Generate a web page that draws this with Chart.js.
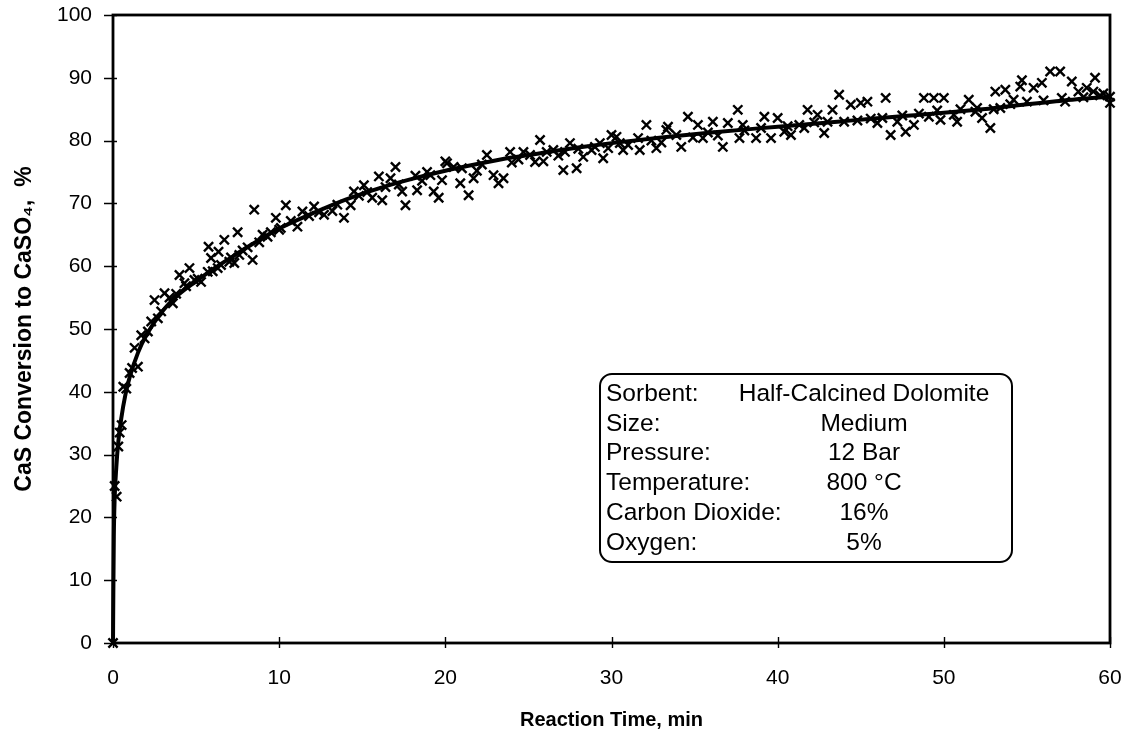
<!DOCTYPE html>
<html><head><meta charset="utf-8">
<script src="https://cdn.jsdelivr.net/npm/chart.js@4.4.0/dist/chart.umd.min.js"></script>
<style>html,body{margin:0;padding:0;background:#fff;}#wrap{width:1127px;height:736px;position:relative;}</style>
</head><body><div id="wrap"><canvas id="c" width="1127" height="736"></canvas></div>
<script>
// ---- data ----
const timeMin = [0,0.1,0.22,0.32,0.4,0.52,0.62,0.8,1.0,1.15,1.3,1.5,1.7,1.9,2.1,2.3,2.5,2.7,2.9,3.1,3.4,3.6,3.8,4.0,4.3,4.4,4.6,4.9,5.1,5.3,5.7,5.75,5.9,6.0,6.3,6.35,6.5,6.7,7.0,7.1,7.3,7.5,7.6,7.8,8.1,8.4,8.5,8.8,9.0,9.3,9.5,9.8,
10.0,10.1,10.4,10.7,11.1,11.4,11.8,12.1,12.4,12.7,13.2,13.5,13.9,14.3,14.5,14.8,15.1,15.3,15.6,16.0,16.2,16.4,16.7,17.0,17.2,17.4,17.6,18.2,18.3,18.6,18.9,19.1,19.3,19.6,19.8,
20.0,20.1,20.5,20.9,21.0,21.4,21.7,21.9,22.2,22.5,22.9,23.2,23.5,23.9,24.0,24.4,24.7,25.1,25.4,25.7,25.9,26.1,26.5,26.8,27.1,27.2,27.5,27.9,28.0,28.3,28.8,29.0,29.3,29.5,29.8,
30.0,30.3,30.5,30.7,31.0,31.6,31.7,32.1,32.4,32.7,33.0,33.3,33.4,33.9,34.2,34.6,34.9,35.2,35.5,35.8,36.1,36.4,36.7,37.0,37.6,37.7,37.9,38.0,38.7,39.0,39.2,39.6,
40.0,40.4,40.6,40.8,41.3,41.6,41.8,42.2,42.4,42.8,43.0,43.3,43.7,44.0,44.4,44.8,45.0,45.4,45.6,46.0,46.3,46.5,46.8,47.2,47.5,47.7,48.2,48.5,48.8,49.1,49.4,49.6,49.8,
50.0,50.6,50.8,51.0,51.5,51.9,52.0,52.3,52.8,53.0,53.1,53.4,53.7,54.0,54.2,54.6,54.7,55.0,55.4,55.9,56.0,56.4,57.0,57.1,57.3,57.7,58.1,58.4,58.6,59.0,59.1,59.4,59.6,60.0,60.0];
const conversionPct = [0,25,23.3,31.3,33.5,34.7,40.8,40.5,43,43.8,47,44,49,48.5,49.6,51.2,54.6,51.7,52.8,55.7,55,54.1,55.6,58.6,57.3,56.8,59.7,57.8,58,57.5,59.1,63.1,61.3,59.2,59.7,62.3,60.2,64.2,60.7,61.4,60.5,65.4,61.8,62.5,63,61,69,63.8,65,64.7,65.4,67.7,
65.8,66.1,69.7,67.2,66.3,68.7,68.0,69.5,68.6,68.2,68.8,69.8,67.7,69.7,71.9,71.2,72.9,71.8,70.9,74.3,70.5,72.6,74,75.8,73.0,71.9,69.7,74.4,72.1,73.6,75,74.5,71.9,70.9,73.7,
76.7,76.4,75.8,73.2,75.6,71.3,74,75.2,76.2,77.7,74.5,73.2,74,78.2,76.5,77.0,78.2,77.7,76.6,80.1,76.7,78.2,78.5,77.6,75.3,78.2,79.6,75.6,78.7,77.4,78.5,79.0,79.6,77.2,78.8,
80.9,80.6,79.6,78.5,79.3,80.4,78.5,82.5,80.0,78.8,79.7,81.7,82.2,80.9,79,83.8,80.5,82.5,80.4,81.3,83,80.8,79,82.8,84.9,80.4,82.5,81.6,80.4,82.0,83.8,80.4,
83.6,81.4,82.3,80.9,82.5,82.0,84.9,82.9,84.1,81.2,83.0,84.9,87.3,83,85.7,83.2,86,86.2,83.5,82.8,83.6,86.8,80.9,83,84.0,81.4,82.5,84.3,86.8,83.8,86.8,84.8,83.3,
86.8,84.1,83,85.0,86.5,84.6,85.2,83.6,82,85.0,87.8,85.2,88.1,85.8,86.5,88.6,89.6,86.2,88.4,89.2,86.4,91,91,86.8,86.2,89.4,87.8,86.9,88.4,87.8,90,87.2,87.5,87,86];
const fitTime = [0,0.02,0.05,0.1,0.2,0.3,0.5,0.75,1,1.5,2,3,4,5,6,7,8,9,10,12,14,16,18,20,22,24,26,28,30,33,36,40,44,48,52,55,58,60];
const fitConversion = [0,8,17,23,28,31.5,35.8,39.6,42.3,46.2,49,52.9,55.6,57.6,59.5,61.2,62.9,64.5,66,68.4,70.6,72.4,73.9,75.2,76.3,77.3,78.1,78.9,79.6,80.5,81.3,82.2,83.1,84,84.9,85.8,86.6,87];
const xTickValues = [0,10,20,30,40,50,60];
const yTickValues = [0,10,20,30,40,50,60,70,80,90,100];
const xTitle = 'Reaction Time, min';
const yTitle = 'CaS Conversion to CaSO\u2084,  %';
const infoLabels = ['Sorbent:','Size:','Pressure:','Temperature:','Carbon Dioxide:','Oxygen:'];
const infoValues = ['Half-Calcined Dolomite','Medium','12 Bar','800 \u00B0C','16%','5%'];

// ---- chart ----
const FONT = "'Liberation Sans', Arial, sans-serif";
const scatterPts = timeMin.map((t, i) => ({x: t, y: conversionPct[i]}));
const fitPts = fitTime.map((t, i) => ({x: t, y: fitConversion[i]}));

const framePlugin = {
  id: 'frame',
  afterDatasetsDraw(chart) {
    const {ctx, chartArea: a, scales: {x, y}} = chart;
    ctx.save();
    ctx.strokeStyle = '#000';
    ctx.lineWidth = 1.4;
    ctx.beginPath();
    y.ticks.forEach(t => { const py = Math.round(y.getPixelForValue(t.value)) + 0.5; ctx.moveTo(a.left - 9, py); ctx.lineTo(a.left + 4, py); });
    x.ticks.forEach(t => { const px = Math.round(x.getPixelForValue(t.value)) + 0.5; ctx.moveTo(px, a.bottom - 6); ctx.lineTo(px, a.bottom + 5); });
    ctx.stroke();
    ctx.lineWidth = 2.8;
    ctx.strokeRect(a.left, a.top, a.right - a.left, a.bottom - a.top);

    // info box
    const bx = 600, by = 374, bw = 412, bh = 188, r = 12;
    ctx.fillStyle = '#fff';
    ctx.lineWidth = 2;
    ctx.beginPath();
    ctx.roundRect(bx, by, bw, bh, r);
    ctx.fill();
    ctx.stroke();
    ctx.fillStyle = '#000';
    ctx.font = '24.5px ' + FONT;
    ctx.textBaseline = 'middle';
    infoLabels.forEach((lab, i) => {
      const ly = by + 20 + i * 29.8;
      ctx.textAlign = 'left';
      ctx.fillText(lab, bx + 6, ly);
      ctx.textAlign = 'center';
      ctx.fillText(infoValues[i], 864, ly);
    });
    ctx.restore();
  }
};

new Chart(document.getElementById('c'), {
  type: 'scatter',
  data: {
    datasets: [
      {
        data: fitPts, showLine: true, borderColor: '#000', borderWidth: 4,
        pointRadius: 0, cubicInterpolationMode: 'monotone', clip: false
      },
      {
        data: scatterPts, showLine: false, pointStyle: 'crossRot', pointRadius: 6.5,
        pointBorderWidth: 2.4, borderColor: '#000', backgroundColor: '#000', clip: false
      }
    ]
  },
  options: {
    responsive: false, animation: false, devicePixelRatio: 1,
    layout: {padding: {top: 15, right: 17, bottom: 0, left: 0}},
    plugins: {legend: {display: false}, tooltip: {enabled: false}},
    scales: {
      x: {
        type: 'linear', min: 0, max: 60,
        afterBuildTicks: s => { s.ticks = xTickValues.map(v => ({value: v})); },
        afterFit: s => { s.height = 93; s.paddingLeft = 0; s.paddingRight = 0; },
        grid: {display: false, drawTicks: false}, border: {display: false},
        ticks: {color: '#000', font: {family: FONT, size: 21}, padding: 23, maxRotation: 0},
        title: {display: true, text: xTitle, color: '#000', font: {family: FONT, size: 20, weight: 'bold'}, padding: {top: 0, bottom: 4}}
      },
      y: {
        type: 'linear', min: 0, max: 100,
        afterBuildTicks: s => { s.ticks = yTickValues.map(v => ({value: v})); },
        afterFit: s => { s.width = 113; s.paddingTop = 0; s.paddingBottom = 0; },
        grid: {display: false, drawTicks: false}, border: {display: false},
        ticks: {color: '#000', font: {family: FONT, size: 21}, padding: 21},
        title: {display: true, text: yTitle, color: '#000', font: {family: FONT, size: 23, weight: 'bold'}, padding: {top: 11, bottom: 0}}
      }
    }
  },
  plugins: [framePlugin]
});
</script></body></html>
